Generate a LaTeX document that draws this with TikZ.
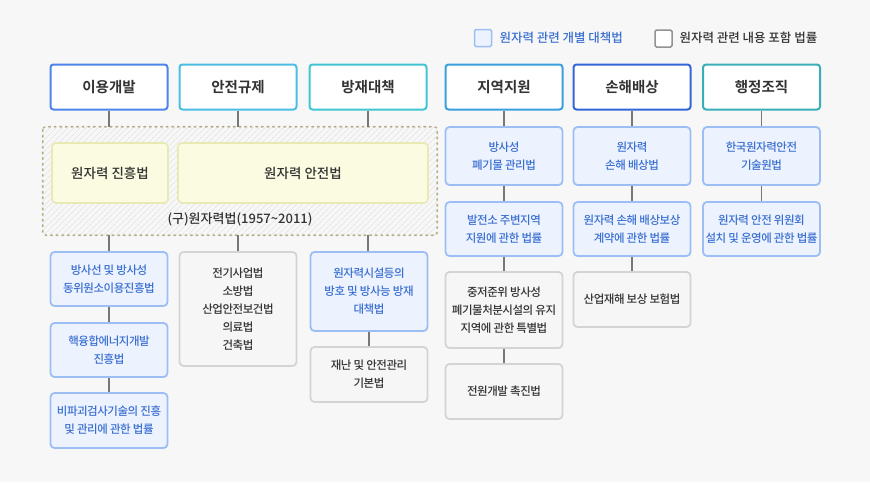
\documentclass[tikz,border=0pt]{standalone}
\usepackage{fontspec}
\setmainfont{Noto Sans CJK KR}[UprightFont=* Medium, BoldFont=* Bold]
\usetikzlibrary{patterns.meta}

\definecolor{bgpage}{HTML}{F7F7F7}
\definecolor{hdrA}{HTML}{4D85EA}
\definecolor{hdrB}{HTML}{4CBDE3}
\definecolor{hdrC}{HTML}{40C5D3}
\definecolor{hdrD}{HTML}{3AA0DD}
\definecolor{hdrE}{HTML}{3366D6}
\definecolor{hdrF}{HTML}{38AEB8}
\definecolor{blueline}{HTML}{9CBEF4}
\definecolor{bluefill}{HTML}{EDF3FE}
\definecolor{bluetext}{HTML}{3A6FD2}
\definecolor{grayline}{HTML}{D4D4D4}
\definecolor{grayfill}{HTML}{F6F6F6}
\definecolor{graytext}{HTML}{333333}
\definecolor{yelline}{HTML}{E9E9B4}
\definecolor{yelfill}{HTML}{FBFBE1}
\definecolor{dotline}{HTML}{B5B08A}
\definecolor{linkgray}{HTML}{777777}

\tikzset{
  hdr/.style={draw=#1, line width=2pt, fill=white, rounded corners=3pt,
    minimum width=117pt, minimum height=45pt, font=\bfseries\fontsize{14.5}{17}\selectfont, text=graytext},
  lawblue/.style={draw=blueline, line width=1.8pt, fill=bluefill, rounded corners=4pt,
    minimum width=117pt, minimum height=#1, inner xsep=2pt, align=center, text=bluetext,
    font=\fontsize{11.5}{18}\selectfont\addfontfeature{LetterSpace=-4}},
  lawgray/.style={draw=grayline, line width=1.8pt, fill=grayfill, rounded corners=4pt,
    minimum width=117pt, minimum height=#1, inner xsep=2pt, align=center, text=graytext,
    font=\fontsize{11.5}{18}\selectfont\addfontfeature{LetterSpace=-4}},
  lawyel/.style={draw=yelline, line width=1.6pt, fill=yelfill, rounded corners=4pt,
    minimum height=60pt, text=graytext, font=\fontsize{13.5}{16}\selectfont},
  link/.style={draw=linkgray, line width=1.6pt},
  keybox/.style={line width=1.5pt, rounded corners=1.5pt, minimum size=17pt, inner sep=0pt}
}

\begin{document}
\begin{tikzpicture}[x=1pt, y=-1pt]
  \fill[bgpage] (0,0) rectangle (870,482);
  \useasboundingbox (0,0) rectangle (870,482);

  % legend
  \node[keybox, draw=blueline, fill=bluefill] (keyA) at (483,38) {};
  \node[anchor=west, text=bluetext, font=\fontsize{12.5}{15}\selectfont] (keyAtext) at (496,38) {원자력 관련 개별 대책법};
  \node[keybox, draw=gray!85, fill=white] (keyB) at (663.5,38.5) {};
  \node[anchor=west, text=graytext, font=\fontsize{12.5}{15}\selectfont] (keyBtext) at (676,38) {원자력 관련 내용 포함 법률};

  % header row
  \node[hdr=hdrA] (use) at (109,87) {이용개발};
  \node[hdr=hdrB] (safe) at (238,87) {안전규제};
  \node[hdr=hdrC] (disas) at (368,87) {방재대책};
  \node[hdr=hdrD] (region) at (504,87) {지역지원};
  \node[hdr=hdrE] (damage) at (632,87) {손해배상};
  \node[hdr=hdrF] (admin) at (761.5,87) {행정조직};

  % old atomic energy act (hatched area)
  \node[minimum width=394pt, minimum height=108pt, inner sep=0pt, rounded corners=3pt,
    fill=white!60!bgpage, pattern={Lines[angle=45, distance=4pt, line width=0.5pt]}, pattern color=gray!28] (oldact) at (240,181) {};
  \draw[dotline, line width=1.6pt, dash pattern=on 1.6pt off 4pt, line cap=round, rounded corners=3pt]
    (oldact.north west) rectangle (oldact.south east);
  \node[lawyel, minimum width=116pt] (promo) at (110,173) {원자력 진흥법};
  \node[lawyel, minimum width=250pt] (safeact) at (303,173) {원자력 안전법};
  \node[text=graytext, font=\fontsize{13}{15}\selectfont] (oldlabel) at (240,219) {(구)원자력법(1957\textasciitilde 2011)};

  % column 1: use
  \node[lawblue=54pt] (radiso) at (109,279) {방사선 및 방사성\\동위원소이용진흥법};
  \node[lawblue=54pt] (fusion) at (109,350) {핵융합에너지개발\\진흥법};
  \node[lawblue=55pt] (ndt) at (109,420.5) {비파괴검사기술의 진흥\\및 관리에 관한 법률};

  % column 2: safety regulation
  \node[lawgray=114pt] (misc) at (238,309) {전기사업법\\소방법\\산업안전보건법\\의료법\\건축법};

  % column 3: disaster
  \node[lawblue=79pt] (protect) at (369,291.5) {원자력시설등의\\방호 및 방사능 방재\\대책법};
  \node[lawgray=55pt] (disaster) at (369,374.5) {재난 및 안전관리\\기본법};

  % column 4: regional support
  \node[lawblue=58pt] (waste) at (504,156) {방사성\\폐기물 관리법};
  \node[lawblue=54pt] (plant) at (504,229) {발전소 주변지역\\지원에 관한 법률};
  \node[lawgray=76pt] (midlow) at (504,310) {중저준위 방사성\\폐기물처분시설의 유지\\지역에 관한 특별법};
  \node[lawgray=55pt] (power) at (504,391.5) {전원개발 촉진법};

  % column 5: damage compensation
  \node[lawblue=58pt] (liab) at (632,156) {원자력\\손해 배상법};
  \node[lawblue=54pt] (indem) at (632,229) {원자력 손해 배상보상\\계약에 관한 법률};
  \node[lawgray=55pt] (ind) at (632,299.5) {산업재해 보상 보험법};

  % column 6: administration
  \node[lawblue=58pt] (kins) at (761.5,156) {한국원자력안전\\기술원법};
  \node[lawblue=54pt] (nssc) at (761.5,229) {원자력 안전 위원회\\설치 및 운영에 관한 법률};

  % connectors
  \foreach \top/\sub in {use/radiso, safe/misc, disas/protect}{
    \draw[link] (\top.south) -- (\top.south |- oldact.north);
    \draw[link] (\top.south |- oldact.south) -- (\top.south |- \sub.north);
  }
  \draw[link] (radiso) -- (fusion);
  \draw[link] (fusion) -- (ndt);
  \draw[link] (protect) -- (disaster);
  \draw[link] (region) -- (waste);
  \draw[link] (waste) -- (plant);
  \draw[link] (plant) -- (midlow);
  \draw[link] (midlow) -- (power);
  \draw[link] (damage) -- (liab);
  \draw[link] (liab) -- (indem);
  \draw[link] (indem) -- (ind);
  \draw[link] (admin) -- (kins);
  \draw[link] (kins) -- (nssc);
\end{tikzpicture}
\end{document}
